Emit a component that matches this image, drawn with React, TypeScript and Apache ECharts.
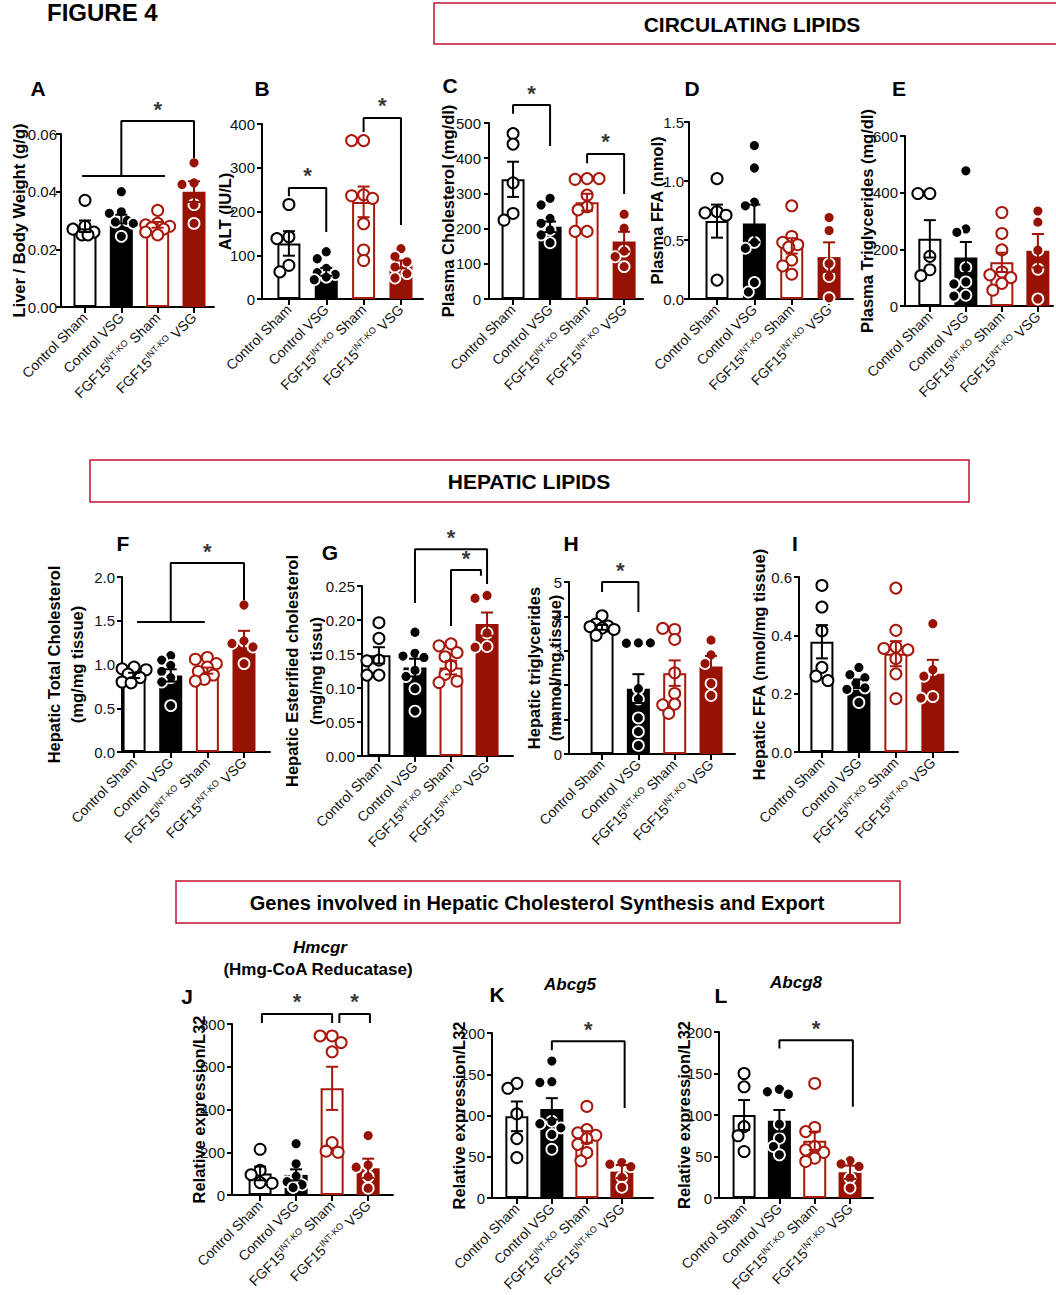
import React, { useEffect, useRef } from 'react';
import * as echarts from 'echarts';

const FONT = '"Liberation Sans", Arial, Helvetica, sans-serif';
const BLACK = '#000000';
const RED_FILL = '#971203';
const RED_LINE = '#a8180c';
const BOX_RED = '#c41230';

// ---- categories / tick labels ----
const groupLabels = ['Control Sham', 'Control VSG', 'FGF15 INT-KO Sham', 'FGF15 INT-KO VSG'];
const xLabelRich = ['{n|Control Sham}', '{n|Control VSG}', '{n|FGF15}{s|INT-KO}{n| Sham}', '{n|FGF15}{s|INT-KO}{n| VSG}'];
const groupTicks = [0, 1, 2, 3];

// ---- A: Liver / body weight ----
const liverMean = [0.028, 0.0305, 0.0285, 0.040];
const liverSem = [0.002, 0.0015, 0.001, 0.0036];
const liverPts = [
  [0.037, 0.028, 0.027, 0.026, 0.025, 0.025],
  [0.040, 0.033, 0.0325, 0.030, 0.0295, 0.029, 0.0245],
  [0.0335, 0.029, 0.0285, 0.028, 0.0275, 0.027, 0.026, 0.025],
  [0.050, 0.043, 0.0425, 0.0355, 0.029],
];
// ---- B: ALT ----
const altMean = [127, 62, 222, 79];
const altSem = [28, 9, 35, 9];
const altPts = [
  [216, 142, 138, 77, 62],
  [108, 92, 70, 60, 56, 50, 44],
  [362, 362, 238, 236, 230, 172, 112, 88],
  [115, 97, 85, 73, 58, 48],
];
// ---- C: Plasma cholesterol ----
const cholMean = [340, 205, 275, 163];
const cholSem = [50, 15, 24, 28];
const cholPts = [
  [470, 440, 330, 243, 224],
  [286, 267, 229, 215, 196, 182, 160],
  [342, 340, 342, 295, 262, 253, 192, 192],
  [241, 201, 136, 120, 92],
];
// ---- D: Plasma FFA ----
const ffaMean = [0.66, 0.64, 0.45, 0.355];
const ffaSem = [0.14, 0.16, 0.065, 0.125];
const ffaPts = [
  [1.02, 0.74, 0.73, 0.71, 0.16],
  [1.30, 1.11, 0.82, 0.79, 0.48, 0.43, 0.14, 0.06],
  [0.79, 0.53, 0.48, 0.46, 0.44, 0.33, 0.28, 0.21],
  [0.69, 0.58, 0.30, 0.19, 0.01],
];
// ---- E: Plasma triglycerides ----
const tgMean = [237, 171, 154, 195];
const tgSem = [66, 55, 34, 59];
const tgPts = [
  [397, 397, 175, 128, 107],
  [477, 272, 260, 136, 85, 78, 38, 35],
  [330, 256, 198, 120, 110, 100, 80, 56],
  [335, 296, 197, 130, 25],
];
// ---- F: Hepatic total cholesterol ----
const htcMean = [0.875, 0.875, 0.93, 1.25];
const htcSem = [0.03, 0.07, 0.035, 0.135];
const htcPts = [
  [0.97, 0.95, 0.94, 0.89, 0.85, 0.80, 0.79],
  [1.10, 1.05, 0.99, 0.92, 0.85, 0.80, 0.53],
  [1.08, 1.06, 1.01, 0.97, 0.92, 0.88, 0.83, 0.81],
  [1.68, 1.27, 1.24, 1.20, 1.01],
];
// ---- G: Hepatic esterified cholesterol ----
const hecMean = [0.148, 0.130, 0.130, 0.194];
const hecSem = [0.012, 0.013, 0.010, 0.017];
const hecPts = [
  [0.196, 0.173, 0.141, 0.140, 0.119, 0.119],
  [0.182, 0.151, 0.147, 0.145, 0.126, 0.117, 0.099, 0.066],
  [0.165, 0.162, 0.152, 0.146, 0.133, 0.120, 0.110, 0.108],
  [0.236, 0.232, 0.181, 0.161, 0.160],
];
// ---- H: Hepatic triglycerides ----
const htgMean = [3.68, 1.90, 2.35, 2.54];
const htgSem = [0.07, 0.42, 0.37, 0.31];
const htgPts = [
  [4.02, 3.78, 3.72, 3.70, 3.66, 3.62, 3.45],
  [3.23, 3.22, 3.23, 1.90, 1.60, 1.05, 0.65, 0.25],
  [3.62, 3.65, 3.33, 2.36, 1.76, 1.45, 1.43, 1.18],
  [3.31, 2.88, 2.63, 2.05, 1.70],
];
// ---- I: Hepatic FFA ----
const hffaMean = [0.378, 0.234, 0.337, 0.268];
const hffaSem = [0.057, 0.015, 0.043, 0.048];
const hffaPts = [
  [0.571, 0.497, 0.415, 0.29, 0.26, 0.245],
  [0.29, 0.265, 0.255, 0.235, 0.22, 0.215, 0.17],
  [0.562, 0.417, 0.36, 0.355, 0.35, 0.32, 0.268, 0.183],
  [0.44, 0.282, 0.26, 0.19, 0.185],
];
// ---- J: Hmcgr ----
const hmgMean = [101, 94, 499, 125];
const hmgSem = [32, 26, 101, 45];
const hmgPts = [
  [214, 115, 95, 58, 55],
  [240, 146, 88, 62, 48, 35],
  [744, 744, 713, 670, 245, 205, 200],
  [278, 140, 130, 86, 32],
];
// ---- K: Abcg5 ----
const a5Mean = [99, 108, 74, 32];
const a5Sem = [18, 13, 7, 8];
const a5Pts = [
  [139, 133, 102, 72, 49],
  [166, 141, 140, 93, 90, 85, 77, 59],
  [111, 83, 79, 76, 72, 65, 55, 45],
  [43, 41, 38, 25, 13],
];
// ---- L: Abcg8 ----
const a8Mean = [100, 93, 69, 31];
const a8Sem = [18, 13, 11, 8];
const a8Pts = [
  [150, 134, 86, 75, 56],
  [131, 128, 125, 89, 72, 62, 52],
  [138, 85, 80, 62, 58, 55, 48, 44],
  [45, 41, 38, 24, 12],
];

// ---- significance brackets (data units) ----
const bracketsA = [{ x1: 1, x2: 3, top: 0.0645, y1: 0.0454, y2: 0.0517 }];
const hlinesA = [{ x1: -0.08, x2: 2.2, y: 0.0454 }];
const bracketsB = [
  { x1: 0, x2: 1, top: 254, y1: 235, y2: 153 },
  { x1: 2, x2: 3, top: 414, y1: 382, y2: 169 },
];
const bracketsC = [
  { x1: 0, x2: 1, top: 551, y1: 526, y2: 435 },
  { x1: 2, x2: 3, top: 412, y1: 386, y2: 298 },
];
const bracketsF = [{ x1: 1, x2: 3, top: 2.16, y1: 1.486, y2: 1.737 }];
const hlinesF = [{ x1: 0.08, x2: 1.93, y: 1.486 }];
const bracketsG = [
  { x1: 1, x2: 3, top: 0.304, y1: 0.225, y2: 0.253 },
  { x1: 2, x2: 2.83, top: 0.2735, y1: 0.191, y2: 0.265 },
];
const bracketsH = [{ x1: 0, x2: 1, top: 5.0, y1: 4.71, y2: 4.13 }];
const bracketsJ = [
  { x1: 0.05, x2: 2.0, top: 847, y1: 805, y2: 805 },
  { x1: 2.2, x2: 3.05, top: 847, y1: 805, y2: 805 },
];
const bracketsK = [{ x1: 1, x2: 3.08, top: 190, y1: 179, y2: 109 }];
const bracketsL = [{ x1: 1, x2: 3.08, top: 190, y1: 180, y2: 110 }];

const groupStyle = [
  { bar: '#ffffff', barBorder: BLACK, barBw: 2, err: BLACK, ptFill: '#ffffff', ptStroke: BLACK, ptBw: 2 },
  { bar: BLACK, barBorder: BLACK, barBw: 0, err: BLACK, ptFill: BLACK, ptStroke: '#ffffff', ptBw: 1.8 },
  { bar: '#ffffff', barBorder: RED_LINE, barBw: 2, err: RED_LINE, ptFill: '#ffffff', ptStroke: RED_LINE, ptBw: 2 },
  { bar: RED_FILL, barBorder: RED_FILL, barBw: 0, err: RED_FILL, ptFill: RED_FILL, ptStroke: '#ffffff', ptBw: 1.8 },
];

type Panel = {
  l: number; t: number; w: number; h: number; xmin: number; xmax: number;
  ymax: number; yint: number; dec: number; name: string; gap: number; lh?: number; lm?: number;
  mean: number[]; sem: number[]; pts: number[][];
  brackets?: { x1: number; x2: number; top: number; y1: number; y2: number }[];
  hlines?: { x1: number; x2: number; y: number }[];
};

const panels: Panel[] = [
  { l: 61, t: 134, w: 153, h: 173, xmin: -0.66, xmax: 3.55, ymax: 0.06, yint: 0.02, dec: 2, name: 'Liver / Body Weight (g/g)', gap: 33, lm: 4, mean: liverMean, sem: liverSem, pts: liverPts, brackets: bracketsA, hlines: hlinesA },
  { l: 262, t: 124, w: 161, h: 175, xmin: -0.72, xmax: 3.59, ymax: 400, yint: 100, dec: 0, name: 'ALT (IU/L)', gap: 28, mean: altMean, sem: altSem, pts: altPts, brackets: bracketsB },
  { l: 489, t: 123, w: 154, h: 176, xmin: -0.65, xmax: 3.51, ymax: 500, yint: 100, dec: 0, name: 'Plasma Cholesterol (mg/dl)', gap: 32, lm: 8, mean: cholMean, sem: cholSem, pts: cholPts, brackets: bracketsC },
  { l: 689, t: 122, w: 164, h: 177, xmin: -0.75, xmax: 3.64, ymax: 1.5, yint: 0.5, dec: 1, name: 'Plasma FFA (nmol)', gap: 23, lm: 5, mean: ffaMean, sem: ffaSem, pts: ffaPts },
  { l: 905, t: 136, w: 148, h: 170, xmin: -0.69, xmax: 3.42, ymax: 600, yint: 200, dec: 0, name: 'Plasma Triglycerides (mg/dl)', gap: 29, mean: tgMean, sem: tgSem, pts: tgPts },
  { l: 122, t: 577, w: 148, h: 175, xmin: -0.33, xmax: 3.71, ymax: 2.0, yint: 0.5, dec: 1, name: 'Hepatic Total Cholesterol\n(mg/mg tissue)', gap: 34, lh: 23, mean: htcMean, sem: htcSem, pts: htcPts, brackets: bracketsF, hlines: hlinesF },
  { l: 362, t: 586, w: 151, h: 170, xmin: -0.47, xmax: 3.72, ymax: 0.25, yint: 0.05, dec: 2, name: 'Hepatic Esterified cholesterol\n(mg/mg tissu)', gap: 34, lh: 24, mean: hecMean, sem: hecSem, pts: hecPts, brackets: bracketsG },
  { l: 569, t: 582, w: 166, h: 172, xmin: -0.91, xmax: 3.66, ymax: 5, yint: 1, dec: 0, name: 'Hepatic triglycerides\n(mnmol/mg tissue)', gap: 4, lh: 21, mean: htgMean, sem: htgSem, pts: htgPts, brackets: bracketsH },
  { l: 799, t: 577, w: 159, h: 175, xmin: -0.62, xmax: 3.68, ymax: 0.6, yint: 0.2, dec: 1, name: 'Hepatic FFA (nmol/mg tissue)', gap: 31, mean: hffaMean, sem: hffaSem, pts: hffaPts },
  { l: 232, t: 1024, w: 161, h: 171, xmin: -0.78, xmax: 3.69, ymax: 800, yint: 200, dec: 0, name: 'Relative expression/L32', gap: 24, mean: hmgMean, sem: hmgSem, pts: hmgPts, brackets: bracketsJ },
  { l: 492, t: 1033, w: 161, h: 165, xmin: -0.71, xmax: 3.89, ymax: 200, yint: 50, dec: 0, name: 'Relative expression/L32', gap: 24, mean: a5Mean, sem: a5Sem, pts: a5Pts, brackets: bracketsK },
  { l: 719, t: 1032, w: 154, h: 166, xmin: -0.71, xmax: 3.65, ymax: 200, yint: 50, dec: 0, name: 'Relative expression/L32', gap: 26, mean: a8Mean, sem: a8Sem, pts: a8Pts, brackets: bracketsL },
];

// horizontal spread of dots (layout only, in pixels -> data units)
function swarm(vals: number[], pxPerX: number, pxPerY: number): number[] {
  const placed: { x: number; y: number }[] = [];
  const cands = [0, -6, 6, -3, 3, -9, 9, -12, 12];
  const minD = 9.5;
  return vals.map((v) => {
    const y = v * pxPerY;
    let best = 0;
    let bestD = -1;
    for (const c of cands) {
      let d = Infinity;
      for (const p of placed) d = Math.min(d, Math.hypot(p.x - c, p.y - y));
      if (d >= minD) { best = c; bestD = d; break; }
      if (d > bestD) { bestD = d; best = c; }
    }
    placed.push({ x: best, y });
    return best / pxPerX;
  });
}

function buildOption() {
  const grid: any[] = [];
  const xAxis: any[] = [];
  const yAxis: any[] = [];
  const series: any[] = [];

  panels.forEach((p, i) => {
    grid.push({ left: p.l, top: p.t, width: p.w, height: p.h, containLabel: false, outerBoundsMode: 'none' });
    xAxis.push({
      type: 'value', gridIndex: i, min: p.xmin, max: p.xmax,
      axisLine: { show: true, onZero: false, lineStyle: { color: BLACK, width: 2 } },
      axisTick: { show: true, customValues: groupTicks, length: 6, lineStyle: { color: BLACK, width: 2 } },
      axisLabel: {
        show: true, customValues: groupTicks, rotate: 45, margin: 8,
        formatter: (v: number) => xLabelRich[Math.round(v)] ?? '',
        rich: {
          n: { fontSize: 14, fontFamily: FONT, color: '#111', lineHeight: 16 },
          s: { fontSize: 9, fontFamily: FONT, color: '#111', verticalAlign: 'top', lineHeight: 16 },
        },
      },
      splitLine: { show: false },
    });
    yAxis.push({
      type: 'value', gridIndex: i, min: 0, max: p.ymax, interval: p.yint,
      name: p.name, nameLocation: 'middle', nameGap: p.gap, nameMoveOverlap: false,
      nameTextStyle: { fontFamily: FONT, fontSize: 16.5, fontWeight: 'bold', color: BLACK, lineHeight: p.lh ?? 18 },
      axisLine: { show: true, onZero: false, lineStyle: { color: BLACK, width: 2 } },
      axisTick: { show: true, length: 5, lineStyle: { color: BLACK, width: 2 } },
      axisLabel: { margin: p.lm ?? 7, fontFamily: FONT, fontSize: 15, color: '#111', formatter: (v: number) => v.toFixed(p.dec) },
      splitLine: { show: false },
    });

    series.push({
      type: 'bar', xAxisIndex: i, yAxisIndex: i, barWidth: 23, silent: true, z: 1,
      data: p.mean.map((m, g) => ({
        value: [g, m],
        itemStyle: { color: groupStyle[g].bar, borderColor: groupStyle[g].barBorder, borderWidth: groupStyle[g].barBw },
      })),
    });

    const pxPerX = p.w / (p.xmax - p.xmin);
    const pxPerY = p.h / p.ymax;
    p.pts.forEach((vals, g) => {
      const jit = swarm(vals, pxPerX, pxPerY);
      series.push({
        type: 'scatter', name: groupLabels[g], xAxisIndex: i, yAxisIndex: i, silent: true, z: 3, clip: false,
        symbol: 'circle', symbolSize: 11,
        itemStyle: { color: groupStyle[g].ptFill, borderColor: groupStyle[g].ptStroke, borderWidth: groupStyle[g].ptBw, opacity: 1 },
        data: vals.map((v, k) => [g + jit[k], v]),
      });
    });

    series.push({
      type: 'custom', xAxisIndex: i, yAxisIndex: i, silent: true, z: 4, clip: false,
      renderItem: (params: any, api: any) => {
        const x = api.value(0);
        const m = api.value(1);
        const s = api.value(2);
        const top = api.coord([x, m + s]);
        const bot = api.coord([x, m - s]);
        const c = groupStyle[params.dataIndex].err;
        const hw = 6;
        const st = { stroke: c, lineWidth: 2 };
        return {
          type: 'group',
          children: [
            { type: 'line', shape: { x1: top[0], y1: top[1], x2: bot[0], y2: bot[1] }, style: st },
            { type: 'line', shape: { x1: top[0] - hw, y1: top[1], x2: top[0] + hw, y2: top[1] }, style: st },
            { type: 'line', shape: { x1: bot[0] - hw, y1: bot[1], x2: bot[0] + hw, y2: bot[1] }, style: st },
          ],
        };
      },
      data: p.mean.map((m, g) => [g, m, p.sem[g]]),
    });

    (p.hlines || []).forEach((hl) => {
      series.push({
        type: 'line', xAxisIndex: i, yAxisIndex: i, silent: true, z: 5, clip: false, symbol: 'none',
        lineStyle: { color: BLACK, width: 2 },
        data: [[hl.x1, hl.y], [hl.x2, hl.y]],
      });
    });
    (p.brackets || []).forEach((b) => {
      series.push({
        type: 'line', xAxisIndex: i, yAxisIndex: i, silent: true, z: 5, clip: false, symbol: 'none',
        lineStyle: { color: BLACK, width: 2 },
        data: [[b.x1, b.y1], [b.x1, b.top], [b.x2, b.top], [b.x2, b.y2]],
      });
      series.push({
        type: 'scatter', xAxisIndex: i, yAxisIndex: i, silent: true, z: 6, clip: false,
        symbolSize: 0.1, itemStyle: { color: 'rgba(0,0,0,0)' },
        label: { show: true, formatter: '*', position: 'inside', offset: [0, -12], fontSize: 22, fontWeight: 'bold', color: BLACK, fontFamily: FONT },
        data: [[(b.x1 + b.x2) / 2, b.top]],
      });
    });
  });

  const txt = (text: string, x: number, y: number, font: string) => ({
    type: 'text', x, y, silent: true,
    style: { text, font, fill: BLACK, textAlign: 'center', textVerticalAlign: 'middle', align: 'center', verticalAlign: 'middle' },
  });
  const box = (x: number, y: number, w: number, h: number) => ({
    type: 'rect', silent: true, shape: { x, y, width: w, height: h },
    style: { fill: 'none', stroke: BOX_RED, lineWidth: 1.5 },
  });
  const L = (t: string, x: number, y: number) => txt(t, x, y, `bold 21px ${FONT}`);

  const graphic: any[] = [
    { type: 'text', x: 47, y: 12, silent: true, style: { text: 'FIGURE 4', font: `bold 24px ${FONT}`, fill: BLACK, textAlign: 'left', textVerticalAlign: 'middle', align: 'left', verticalAlign: 'middle' } },
    box(434, 3, 640, 41),
    txt('CIRCULATING LIPIDS', 752, 24, `bold 21px ${FONT}`),
    box(90, 460, 879, 42),
    txt('HEPATIC LIPIDS', 529, 481, `bold 21px ${FONT}`),
    box(176, 881, 724, 42),
    txt('Genes involved in Hepatic Cholesterol Synthesis and Export', 537, 903, `bold 20px ${FONT}`),
    txt('Hmcgr', 320, 947, `italic bold 17px ${FONT}`),
    txt('(Hmg-CoA Reducatase)', 318, 969, `bold 17px ${FONT}`),
    txt('Abcg5', 570, 984, `italic bold 17px ${FONT}`),
    txt('Abcg8', 796, 982, `italic bold 17px ${FONT}`),
    L('A', 38, 88), L('B', 262, 88), L('C', 450, 85), L('D', 692, 88), L('E', 899, 88),
    L('F', 123, 543), L('G', 330, 552), L('H', 571, 543), L('I', 795, 543),
    L('J', 187, 996), L('K', 497, 994), L('L', 721, 995),
  ];

  return {
    animation: false,
    backgroundColor: '#ffffff',
    textStyle: { fontFamily: FONT },
    grid, xAxis, yAxis, series, graphic,
  };
}

export default function App() {
  const ref = useRef<HTMLDivElement>(null);
  useEffect(() => {
    document.body.style.margin = '0';
    if (!ref.current) return;
    const chart = echarts.init(ref.current, undefined, { renderer: 'svg' });
    chart.setOption(buildOption() as any);
    return () => chart.dispose();
  }, []);
  return <div ref={ref} style={{ width: 1056, height: 1295, background: '#fff' }} />;
}
